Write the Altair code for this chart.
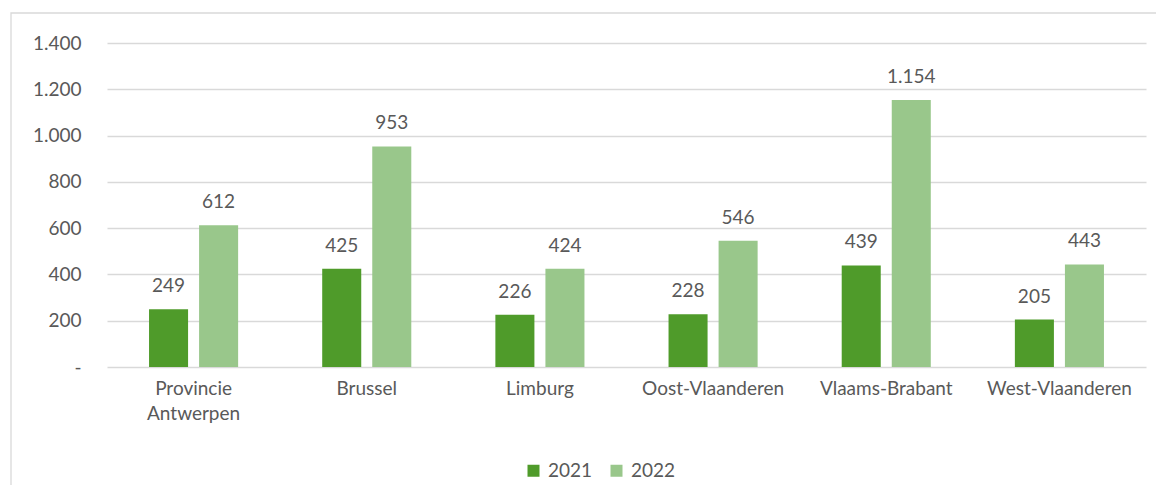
import altair as alt
import pandas as pd

categories = ["Provincie Antwerpen", "Brussel", "Limburg", "Oost-Vlaanderen", "Vlaams-Brabant", "West-Vlaanderen"]
years = ["2021", "2022"]
values_2021 = [249, 425, 226, 228, 439, 205]
values_2022 = [612, 953, 424, 546, 1154, 443]
y_ticks = [0, 200, 400, 600, 800, 1000, 1200, 1400]
colors = ["#4F9B2A", "#99C78B"]

rows = []
for c, a, b in zip(categories, values_2021, values_2022):
    rows.append({"regio": c, "jaar": "2021", "aantal": a})
    rows.append({"regio": c, "jaar": "2022", "aantal": b})
df = pd.DataFrame(rows)

FONT = "Lato"
TXT = "#595959"
FS = 19

x_enc = alt.X(
    "regio:N", sort=categories,
    scale=alt.Scale(paddingInner=0, paddingOuter=0),
    axis=alt.Axis(title=None, labelExpr="split(datum.label, ' ')", labelAngle=0,
                  domain=False, ticks=False, labelPadding=12, labelLineHeight=25,
                  labelBaseline="top"),
)
xoff_enc = alt.XOffset("jaar:N", sort=years, scale=alt.Scale(paddingInner=0.22, paddingOuter=0.84))
y_enc = alt.Y(
    "aantal:Q", scale=alt.Scale(domain=[0, 1400]),
    axis=alt.Axis(title=None, values=y_ticks, domain=False, ticks=False, labelPadding=26,
                  gridColor="#D9D9D9", gridWidth=1.3,
                  labelExpr="datum.value == 0 ? '-\u00a0\u00a0\u00a0' : replace(format(datum.value, ','), ',', '.')"),
)

bars = alt.Chart(df).mark_bar().encode(
    x=x_enc,
    xOffset=xoff_enc,
    y=y_enc,
    color=alt.Color("jaar:N", sort=years, scale=alt.Scale(domain=years, range=colors),
                    legend=alt.Legend(title=None, orient="none", legendX=417, legendY=418,
                                      direction="horizontal", symbolType="square", symbolSize=144,
                                      symbolStrokeWidth=0, labelFont=FONT, labelFontSize=FS,
                                      labelColor=TXT, columnPadding=14, labelOffset=5, padding=0)),
)

labels = alt.Chart(df).transform_calculate(
    label="replace(format(datum.aantal, ','), ',', '.')"
).mark_text(dy=-17, baseline="alphabetic", font=FONT, fontSize=FS, color=TXT).encode(
    x=alt.X("regio:N", sort=categories),
    xOffset=alt.XOffset("jaar:N", sort=years),
    y=alt.Y("aantal:Q"),
    text="label:N",
)

frame = alt.Chart(alt.Data(values=[{}])).mark_rect(
    fill=None, stroke="#D9D9D9", strokeWidth=1.3
).encode(
    x=alt.value(-96), x2=alt.value(1200), y=alt.value(-30), y2=alt.value(600)
)

chart = alt.layer(frame, bars, labels).properties(
    width=1039, height=324,
    autosize=alt.AutoSizeParams(type="none"),
    padding={"left": 99, "top": 35, "right": 10, "bottom": 118},
).configure_view(stroke=None).configure_axis(
    labelFont=FONT, labelFontSize=FS, labelColor=TXT
)

chart.save("out.html", embed_options={"renderer": "svg", "actions": False})
